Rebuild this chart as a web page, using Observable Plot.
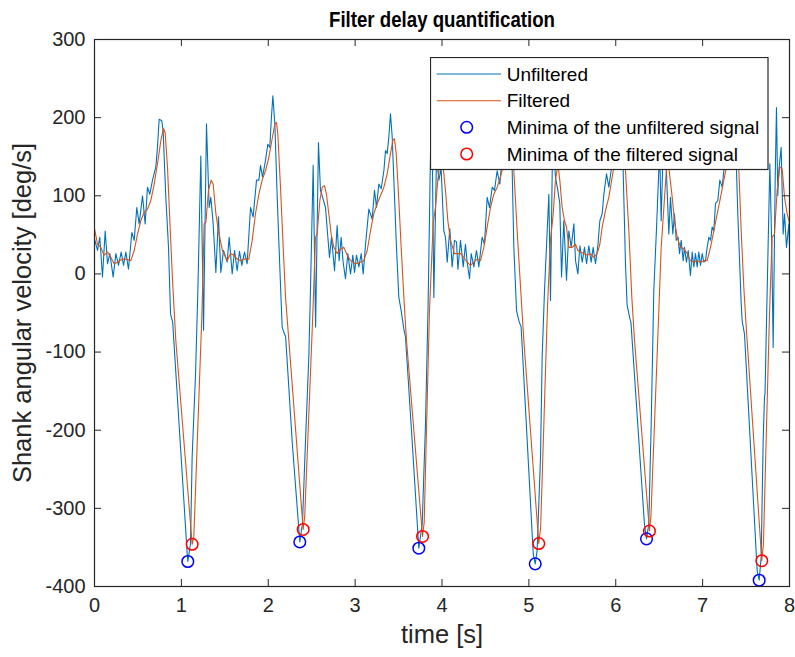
<!DOCTYPE html>
<html>
<head>
<meta charset="utf-8">
<script src="https://cdn.jsdelivr.net/npm/d3@7"></script>
<script src="https://cdn.jsdelivr.net/npm/@observablehq/plot@0.6"></script>
<style>
  body { margin: 0; background: #fff; }
  #wrap { position: relative; width: 795px; height: 657px; font-family: "Liberation Sans", Arial, Helvetica, sans-serif; }
  #legend { position: absolute; left: 430px; top: 57px; }
</style>
</head>
<body>
<div id="wrap"></div>
<script>
// ---- data ----
const xTicks = [0, 1, 2, 3, 4, 5, 6, 7, 8];
const yTicks = [-400, -300, -200, -100, 0, 100, 200, 300];

const unfilteredTime = [
  0.000, 0.035, 0.061, 0.092, 0.123, 0.150, 0.177, 0.215, 0.246, 0.276, 0.307, 0.334, 0.361, 0.391,
  0.430, 0.457, 0.487, 0.514, 0.553, 0.583, 0.610, 0.637, 0.668, 0.706, 0.725, 0.744, 0.775, 0.790,
  0.821, 0.852, 0.875, 0.900, 1.067, 1.074, 1.105, 1.124, 1.163, 1.190, 1.224, 1.255, 1.289, 1.320,
  1.339, 1.366, 1.397, 1.427, 1.454, 1.485, 1.527, 1.550, 1.585, 1.612, 1.642, 1.669, 1.696, 1.727,
  1.757, 1.796, 1.826, 1.865, 1.892, 1.911, 1.934, 1.968, 1.995, 2.018, 2.034, 2.053, 2.076, 2.103,
  2.133, 2.160, 2.187, 2.200, 2.276, 2.363, 2.394, 2.429, 2.467, 2.486, 2.517, 2.545, 2.578, 2.601,
  2.621, 2.659, 2.686, 2.705, 2.728, 2.763, 2.793, 2.816, 2.839, 2.862, 2.889, 2.916, 2.947, 2.974,
  2.993, 3.016, 3.043, 3.070, 3.093, 3.120, 3.158, 3.196, 3.223, 3.246, 3.273, 3.300, 3.331, 3.350,
  3.369, 3.388, 3.407, 3.427, 3.446, 3.476, 3.503, 3.530, 3.560, 3.580, 3.657, 3.733, 3.772, 3.810,
  3.840, 3.868, 3.885, 3.906, 3.937, 3.964, 3.990, 4.021, 4.040, 4.060, 4.090, 4.117, 4.144, 4.167,
  4.183, 4.213, 4.244, 4.270, 4.290, 4.317, 4.336, 4.367, 4.397, 4.424, 4.462, 4.489, 4.520, 4.547,
  4.578, 4.604, 4.635, 4.666, 4.700, 4.720, 4.750, 4.780, 4.800, 4.808, 4.827, 4.858, 4.885, 4.911,
  5.050, 5.073, 5.095, 5.134, 5.153, 5.180, 5.230, 5.249, 5.275, 5.306, 5.333, 5.356, 5.376, 5.402,
  5.433, 5.460, 5.487, 5.518, 5.537, 5.564, 5.587, 5.614, 5.640, 5.664, 5.690, 5.717, 5.740, 5.767,
  5.794, 5.817, 5.844, 5.863, 5.894, 5.920, 5.947, 5.970, 6.000, 6.020, 6.050, 6.070, 6.085, 6.093,
  6.112, 6.131, 6.162, 6.175, 6.330, 6.354, 6.380, 6.408, 6.438, 6.470, 6.505, 6.523, 6.545, 6.580,
  6.611, 6.630, 6.657, 6.676, 6.696, 6.718, 6.734, 6.753, 6.776, 6.791, 6.814, 6.834, 6.860, 6.880,
  6.899, 6.918, 6.937, 6.956, 6.976, 6.995, 7.014, 7.033, 7.052, 7.072, 7.091, 7.110, 7.129, 7.148,
  7.175, 7.198, 7.225, 7.260, 7.280, 7.310, 7.340, 7.370, 7.390, 7.405, 7.428, 7.445, 7.455, 7.482,
  7.628, 7.651, 7.674, 7.697, 7.712, 7.718, 7.743, 7.774, 7.795, 7.812, 7.835, 7.850, 7.865, 7.877,
  7.904, 7.927, 7.943, 7.965, 7.993, 8.000
];
const unfilteredValue = [
  45, 30, 47, -4, 55, 13, 26, -4, 26, 11, 28, 11, 28, 6,
  53, 43, 85, 64, 100, 64, 111, 102, 120, 137, 162, 198, 196, 183,
  98, 34, -51, -62, -358, -368, -345, -234, -128, -21, 151, -72, 192, 85,
  98, 64, 2, 73, 2, 30, 15, 47, 0, 30, 4, 29, 11, 28,
  13, 85, 73, 120, 120, 139, 124, 145, 166, 162, 196, 228, 192, 98,
  9, -68, -77, -80, -215, -343, -319, -213, -106, -21, 139, -68, 168, 107,
  100, 85, 47, 21, 47, 4, 62, 17, 47, 15, -6, 26, 0, 24,
  2, 24, 9, 26, 0, 38, 83, 70, 107, 85, 115, 109, 132, 158,
  154, 175, 205, 175, 120, 34, -30, -47, -70, -81, -215, -351, -320, -192,
  -40, 158, 190, -30, 150, 120, 135, 55, 47, 15, 58, 9, 43, 41,
  6, 43, 9, 38, 15, -6, 26, 9, 30, 9, 47, 38, 98, 85,
  111, 107, 132, 115, 160, 150, 185, 215, 175, 132, 34, -47, -60, -68,
  -358, -371, -354, -234, -106, -21, 102, -34, 185, 124, 107, 90, -4, 68,
  -8, 55, 34, 64, 17, 0, 36, 15, 34, 13, 36, 15, 34, 13,
  36, 68, 77, 102, 128, 111, 132, 150, 175, 165, 205, 175, 132, 98,
  13, -40, -57, -62, -320, -339, -320, -192, -21, 60, 160, 68, 160, 140,
  51, 98, 51, 77, 43, 47, 26, 43, 17, 34, 15, 30, -2, 28,
  9, 26, 9, 28, 11, 26, 15, 17, 34, 47, 43, 60, 55, 90,
  94, 120, 111, 150, 140, 175, 200, 170, 132, 77, 9, -40, -60, -77,
  -380, -392, -362, -213, -158, -153, -21, 141, 40, -94, 120, 213, 100, 132,
  162, 51, 77, 34, 64, 36
];

const filteredTime = [
  0.000, 0.035, 0.073, 0.111, 0.150, 0.188, 0.226, 0.265, 0.322, 0.361, 0.418, 0.457, 0.495, 0.533,
  0.572, 0.610, 0.649, 0.687, 0.725, 0.764, 0.794, 0.813, 0.840, 0.867, 0.898, 0.936, 1.124, 1.143,
  1.237, 1.262, 1.282, 1.312, 1.343, 1.366, 1.397, 1.427, 1.473, 1.489, 1.527, 1.566, 1.604, 1.642,
  1.681, 1.719, 1.777, 1.815, 1.853, 1.892, 1.930, 1.968, 2.007, 2.045, 2.076, 2.095, 2.110, 2.141,
  2.172, 2.199, 2.237, 2.402, 2.420, 2.510, 2.544, 2.563, 2.594, 2.621, 2.647, 2.670, 2.697, 2.724,
  2.755, 2.793, 2.832, 2.870, 2.909, 2.947, 3.004, 3.062, 3.100, 3.139, 3.177, 3.215, 3.254, 3.292,
  3.331, 3.369, 3.407, 3.434, 3.453, 3.473, 3.503, 3.530, 3.561, 3.591, 3.776, 3.795, 3.855, 3.898,
  3.925, 3.952, 3.985, 4.015, 4.040, 4.067, 4.098, 4.144, 4.183, 4.213, 4.251, 4.290, 4.328, 4.367,
  4.405, 4.443, 4.482, 4.520, 4.558, 4.597, 4.635, 4.673, 4.720, 4.770, 4.800, 4.827, 4.865, 4.904,
  4.942, 5.114, 5.135, 5.215, 5.249, 5.280, 5.306, 5.335, 5.356, 5.383, 5.410, 5.433, 5.460, 5.498,
  5.537, 5.564, 5.594, 5.633, 5.671, 5.709, 5.748, 5.786, 5.817, 5.844, 5.882, 5.920, 5.959, 6.000,
  6.050, 6.085, 6.112, 6.151, 6.185, 6.216, 6.388, 6.405, 6.495, 6.523, 6.554, 6.580, 6.600, 6.623,
  6.650, 6.676, 6.707, 6.745, 6.784, 6.822, 6.860, 6.899, 6.937, 6.976, 7.014, 7.052, 7.091, 7.129,
  7.168, 7.206, 7.244, 7.290, 7.340, 7.375, 7.417, 7.444, 7.474, 7.500, 7.681, 7.700, 7.770, 7.800,
  7.827, 7.858, 7.889, 7.916, 7.943, 7.973, 8.000
];
const filteredValue = [
  58, 38, 34, 24, 28, 21, 13, 15, 19, 19, 17, 30, 51, 68,
  79, 83, 94, 115, 141, 171, 186, 181, 137, 68, -8, -85, -346, -337,
  -50, 64, 66, 107, 120, 115, 77, 55, 30, 26, 17, 26, 24, 19,
  17, 19, 19, 43, 77, 102, 120, 132, 149, 173, 192, 194, 179, 111,
  34, -30, -85, -327, -310, -60, 47, 51, 94, 111, 113, 102, 77, 51,
  34, 26, 32, 34, 24, 17, 13, 15, 17, 30, 55, 77, 90, 100,
  111, 128, 154, 171, 173, 154, 94, 34, -30, -85, -336, -318, -50, 64,
  85, 120, 150, 135, 107, 68, 43, 26, 26, 26, 21, 15, 11, 15,
  19, 17, 34, 60, 85, 102, 111, 124, 145, 170, 172, 132, 55, -17,
  -85, -345, -325, -40, 43, 77, 120, 140, 120, 85, 68, 60, 34, 34,
  38, 30, 28, 26, 24, 26, 21, 26, 38, 60, 81, 98, 124, 150,
  175, 165, 132, 55, -30, -85, -329, -310, -50, 34, 85, 128, 150, 124,
  98, 68, 47, 34, 32, 26, 17, 15, 17, 15, 17, 17, 34, 55,
  77, 98, 120, 145, 170, 170, 132, 55, -17, -65, -367, -345, -50, 47,
  51, 107, 137, 134, 98, 77, 65
];

const minUnfilteredTime = [1.074, 2.363, 3.733, 5.073, 6.354, 7.651];
const minUnfilteredValue = [-368, -343, -351, -371, -339, -392];
const minFilteredTime = [1.124, 2.402, 3.776, 5.114, 6.388, 7.681];
const minFilteredValue = [-346, -327, -336, -345, -329, -367];

const seriesLabels = ["Unfiltered", "Filtered", "Minima of the unfiltered signal", "Minima of the filtered signal"];
const titleText = "Filter delay quantification";
const xLabel = "time [s]";
const yLabel = "Shank angular velocity [deg/s]";

// ---- build ----
const zip = (T, V) => T.map((t, i) => ({t, v: V[i]}));
const unf = zip(unfilteredTime, unfilteredValue);
const fil = zip(filteredTime, filteredValue);
const minU = zip(minUnfilteredTime, minUnfilteredValue);
const minF = zip(minFilteredTime, minFilteredValue);

const W = 795, H = 657, mL = 94, mR = 6, mT = 39, mB = 71;
const plotW = W - mL - mR, plotH = H - mT - mB;
const FONT = '"Liberation Sans", Arial, Helvetica, sans-serif';
const AX = "#262626";
const BLUE = "#0072BD", ORANGE = "#D95319";

const chart = Plot.plot({
  width: W, height: H,
  marginLeft: mL, marginRight: mR, marginTop: mT, marginBottom: mB,
  style: {fontFamily: FONT, background: "white", color: AX, overflow: "visible"},
  x: {domain: [0, 8], label: null},
  y: {domain: [-400, 300], label: null},
  marks: [
    Plot.line(unf, {x: "t", y: "v", stroke: BLUE, strokeWidth: 1.1}),
    Plot.line(fil, {x: "t", y: "v", stroke: ORANGE, strokeWidth: 1.1}),
    Plot.dot(minU, {x: "t", y: "v", r: 5.8, stroke: "#0000FF", strokeWidth: 1.5, fill: "none"}),
    Plot.dot(minF, {x: "t", y: "v", r: 5.8, stroke: "#FF0000", strokeWidth: 1.5, fill: "none"}),
    Plot.frame({stroke: AX, strokeWidth: 1.2}),
    Plot.ruleX(xTicks, {x: d => d, insetTop: plotH - 7, stroke: AX}),
    Plot.ruleX(xTicks, {x: d => d, insetBottom: plotH - 7, stroke: AX}),
    Plot.ruleY(yTicks, {y: d => d, insetRight: plotW - 7, stroke: AX}),
    Plot.ruleY(yTicks, {y: d => d, insetLeft: plotW - 7, stroke: AX}),
    Plot.axisX(xTicks, {tickSize: 0, tickPadding: 11, fontSize: 20, tickFormat: d => String(d), label: null, fill: AX}),
    Plot.axisY(yTicks, {tickSize: 0, tickPadding: 9, fontSize: 20, tickFormat: d => String(d), label: null, fill: AX}),
    Plot.text([xLabel], {text: d => d, frameAnchor: "bottom", lineAnchor: "middle", textAnchor: "middle", dy: 48, fontSize: 25.5, fill: AX}),
    Plot.text([yLabel], {text: d => d, frameAnchor: "left", lineAnchor: "middle", textAnchor: "middle", dx: -72, rotate: -90, fontSize: 25.5, fill: AX}),
    Plot.text([titleText], {text: d => d, frameAnchor: "top", lineAnchor: "middle", textAnchor: "middle", dy: -20, fontSize: 22, fontWeight: "bold", fill: "#000"})
  ]
});

// condense the bold title to the reference's narrow width
for (const t of chart.querySelectorAll("text")) {
  if (t.textContent === titleText) {
    t.setAttribute("textLength", 226);
    t.setAttribute("lengthAdjust", "spacingAndGlyphs");
  }
}

const wrap = document.getElementById("wrap");
wrap.appendChild(chart);

// ---- legend overlay ----
const ns = "http://www.w3.org/2000/svg";
const leg = document.createElementNS(ns, "svg");
leg.setAttribute("id", "legend");
leg.setAttribute("width", 340);
leg.setAttribute("height", 115);
const mk = (tag, attrs, text) => {
  const el = document.createElementNS(ns, tag);
  for (const k in attrs) el.setAttribute(k, attrs[k]);
  if (text != null) el.textContent = text;
  leg.appendChild(el);
  return el;
};
mk("rect", {x: 0.5, y: 0.5, width: 337.5, height: 112, fill: "#fff", stroke: AX, "stroke-width": 1.2});
const rowY = [17, 43.7, 70.3, 97];
mk("line", {x1: 6.7, x2: 71, y1: rowY[0], y2: rowY[0], stroke: BLUE, "stroke-width": 1.1});
mk("line", {x1: 6.7, x2: 71, y1: rowY[1], y2: rowY[1], stroke: ORANGE, "stroke-width": 1.1});
mk("circle", {cx: 36.7, cy: rowY[2], r: 5.8, fill: "none", stroke: "#0000FF", "stroke-width": 1.5});
mk("circle", {cx: 36.7, cy: rowY[3], r: 5.8, fill: "none", stroke: "#FF0000", "stroke-width": 1.5});
seriesLabels.forEach((s, i) => {
  mk("text", {x: 76.7, y: rowY[i], "dominant-baseline": "central", "font-size": 19, "font-family": FONT, fill: "#000"}, s);
});
wrap.appendChild(leg);
</script>
</body>
</html>
